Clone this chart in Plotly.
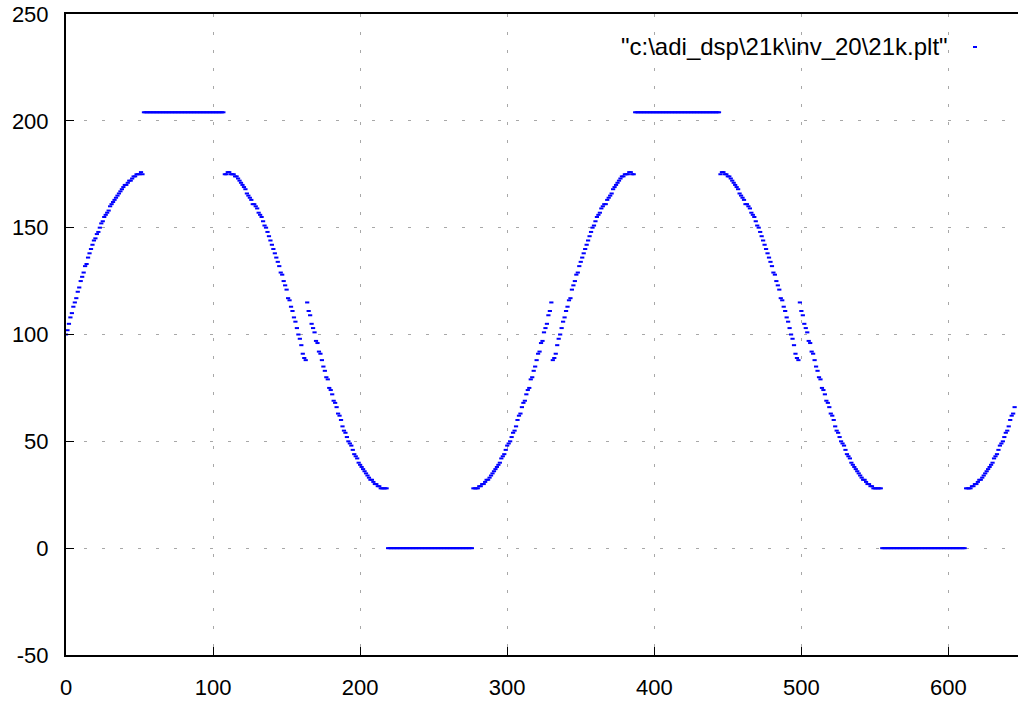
import plotly.graph_objects as go

# Inverter output samples, one value per sample index starting at 0.
# Flanks of the waveform (sample values), in order of appearance.
rise_a = [100, 102, 105, 108, 110, 113, 115, 117, 120, 122,
          125, 127, 129, 132, 133, 136, 138, 140, 142, 144,
          145, 147, 148, 150, 152, 153, 155, 156, 157, 158,
          160, 161, 162, 163, 164, 165, 166, 167, 168, 169,
          170, 170, 171, 172, 172, 173, 174, 174, 175, 175,
          175, 176, 175]
fall_a1 = [175, 175, 176, 176, 175, 175, 175, 174, 174, 173,
           172, 171, 170, 169, 168, 166, 165, 164, 163, 161,
           161, 160, 159, 157, 156, 155, 153, 151, 150, 148,
           146, 144, 142, 140, 138, 136, 134, 132, 129, 128,
           125, 123, 121, 117, 116, 113, 111, 108, 106, 103,
           100, 98, 95, 91, 89, 88]
fall_a2 = [115, 111, 109, 105, 103, 101, 97, 96, 92, 91,
           88, 85, 83, 80, 79, 75, 74, 72, 69, 68,
           66, 63, 62, 60, 57, 55, 54, 52, 50, 49,
           48, 46, 44, 43, 42, 40, 39, 38, 37, 36,
           35, 34, 33, 32, 32, 31, 30, 30, 29, 29,
           28, 28, 28, 28, 28]
rise_b1 = [28, 28, 28, 28, 29, 29, 30, 30, 31, 32,
           32, 33, 34, 35, 36, 37, 38, 39, 40, 42,
           43, 44, 46, 48, 49, 50, 52, 54, 55, 57,
           60, 62, 63, 66, 68, 69, 72, 74, 75, 79,
           80, 83, 85, 88, 91, 92, 96, 97, 101, 103,
           105, 109, 111, 115]
rise_b2 = [88, 89, 91, 95, 98, 100, 103, 106, 108, 111,
           113, 116, 117, 121, 123, 125, 128, 129, 132, 134,
           136, 138, 140, 142, 144, 146, 148, 150, 151, 153,
           155, 156, 157, 159, 160, 161, 161, 163, 164, 165,
           166, 168, 169, 170, 171, 172, 173, 174, 174, 175,
           175, 175, 176, 176, 175, 175]
fall_b1 = [175, 176, 176, 175, 175, 174, 174, 173, 172, 171,
           170, 169, 168, 166, 165, 164, 163, 161, 161, 160,
           159, 157, 156, 155, 153, 151, 150, 148, 146, 144,
           142, 140, 138, 136, 134, 132, 129, 128, 125, 123,
           121, 117, 116, 113, 111, 108, 106, 103, 100, 98,
           95, 91, 89, 88]
fall_b2 = [115, 111, 109, 105, 103, 101, 97, 96, 92, 91,
           88, 85, 83, 80, 79, 75, 74, 72, 69, 68,
           66, 63, 62, 60, 57, 55, 54, 52, 50, 49,
           48, 46, 44, 43, 42, 40, 39, 38, 37, 36,
           35, 34, 33, 32, 32, 31, 30, 30, 29, 29,
           28, 28, 28, 28, 28, 28]
rise_c = [28, 28, 28, 28, 29, 29, 30, 30, 31, 32,
          32, 33, 34, 35, 36, 37, 38, 39, 40, 42,
          43, 44, 46, 48, 49, 50, 52, 54, 55, 57,
          60, 62, 63, 66]

# Saturated sections: (level, number of samples)
top_1 = (204, 55)
bottom_1 = (0, 58)
top_2 = (204, 58)
bottom_2 = (0, 57)

sections = [rise_a, [top_1[0]] * top_1[1], fall_a1, fall_a2,
            [bottom_1[0]] * bottom_1[1], rise_b1, rise_b2,
            [top_2[0]] * top_2[1], fall_b1, fall_b2,
            [bottom_2[0]] * bottom_2[1], rise_c]

values = [v for sec in sections for v in sec]
samples = list(range(len(values)))

series_name = '"c:\\adi_dsp\\21k\\inv_20\\21k.plt"'
x_ticks = [0, 100, 200, 300, 400, 500, 600]
y_ticks = [-50, 0, 50, 100, 150, 200, 250]

FONT = "Liberation Sans, Arial, sans-serif"
BLUE = "#0000ff"

fig = go.Figure()
fig.add_trace(go.Scatter(
    x=samples, y=values, mode="markers", name=series_name,
    marker=dict(symbol="line-ew", size=3, color=BLUE,
                line=dict(color=BLUE, width=2)),
    showlegend=False, hoverinfo="x+y",
))

grid = dict(showgrid=True, gridcolor="#a8a8a8", gridwidth=1, griddash="3px,15px")

fig.update_layout(
    width=1018, height=704,
    margin=dict(l=66, r=0, t=14, b=49),
    paper_bgcolor="white", plot_bgcolor="white",
    font=dict(family=FONT, size=22, color="black"),
    xaxis=dict(range=[0, 647.3], tickvals=x_ticks, ticktext=[str(t) for t in x_ticks],
               ticks="inside", ticklen=8, tickwidth=1, tickcolor="black",
               showline=True, linecolor="black", linewidth=2, mirror=True,
               zeroline=False, ticklabelstandoff=12, **grid),
    yaxis=dict(range=[-50, 250], tickvals=y_ticks, ticktext=[str(t) for t in y_ticks],
               ticks="inside", ticklen=8, tickwidth=1, tickcolor="black",
               showline=True, linecolor="black", linewidth=2,
               zeroline=False, ticklabelstandoff=11, **grid),
    # short mirrored ticks along the right edge of the frame
    yaxis2=dict(range=[-50, 250], tickvals=y_ticks, overlaying="y", side="right",
                anchor="x", ticks="inside", ticklen=4, tickwidth=1, tickcolor="black",
                showticklabels=False, showgrid=False, showline=False, zeroline=False),
    annotations=[dict(xref="paper", yref="paper", x=(950 - 66) / 952, y=(655 - 47) / 641,
                      xanchor="right", yanchor="middle", showarrow=False,
                      text=series_name, font=dict(family=FONT, size=24, color="black"))],
    shapes=[dict(type="line", xref="paper", yref="paper",
                 x0=(973 - 66) / 952, x1=(977 - 66) / 952,
                 y0=(655 - 47) / 641, y1=(655 - 47) / 641,
                 line=dict(color=BLUE, width=2))],
)

fig.write_html("out.html")
